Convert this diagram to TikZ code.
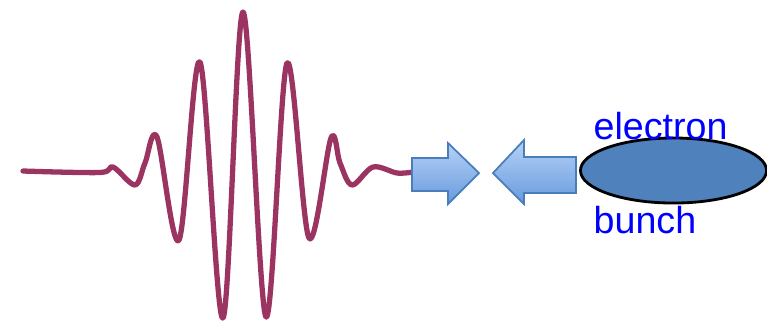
\documentclass[tikz,border=0pt]{standalone}
\usepackage{fontspec}
\setmainfont{Liberation Sans}
\usetikzlibrary{shapes.geometric}
\definecolor{pulse}{RGB}{156,52,98}
\definecolor{arrline}{RGB}{74,126,187}
\definecolor{arrtop}{RGB}{182,210,246}
\definecolor{arrbot}{RGB}{104,154,222}
\definecolor{bunchfill}{RGB}{79,129,189}
\begin{document}
\begin{tikzpicture}[x=0.01cm,y=-0.01cm,font=\fontsize{10.7}{12}\selectfont]
\tikzstyle{wave}=[draw=pulse,line width=1.5pt,line join=round,line cap=round]
\tikzstyle{blockarr}=[draw=arrline,line width=0.5pt,top color=arrtop,bottom color=arrbot]
\tikzstyle{lbl}=[text=blue,inner sep=0pt,anchor=base west]
\useasboundingbox (0,0) rectangle (767,323);
% laser pulse
\draw[wave] plot[smooth,tension=0.55] coordinates {(23,171) (100,172.5) (113,167) (135,185) (145,163) (157,137) (179,240) (200,62) (223,318) (243,12) (266,317) (287,63) (309,238) (331,138) (340,163) (352,185) (373,167) (397,173) (413,172)};
% block arrows
\draw[blockarr] (412,158) -- (448,158) -- (448,143) -- (479,173) -- (448,204) -- (448,191) -- (412,191) -- cycle;
\draw[blockarr] (576,157) -- (524,157) -- (524,140) -- (493,173) -- (524,204) -- (524,193) -- (576,193) -- cycle;
% electron bunch
\node[ellipse,draw=black,line width=0.8pt,fill=bunchfill,minimum width=1.86cm,minimum height=0.65cm,inner sep=0pt] (bunch) at (673.5,170.5) {};
\node[lbl] (lblelectron) at (593,139) {electron};
\node[lbl] (lblbunch) at (593,233) {bunch};
\end{tikzpicture}
\end{document}
